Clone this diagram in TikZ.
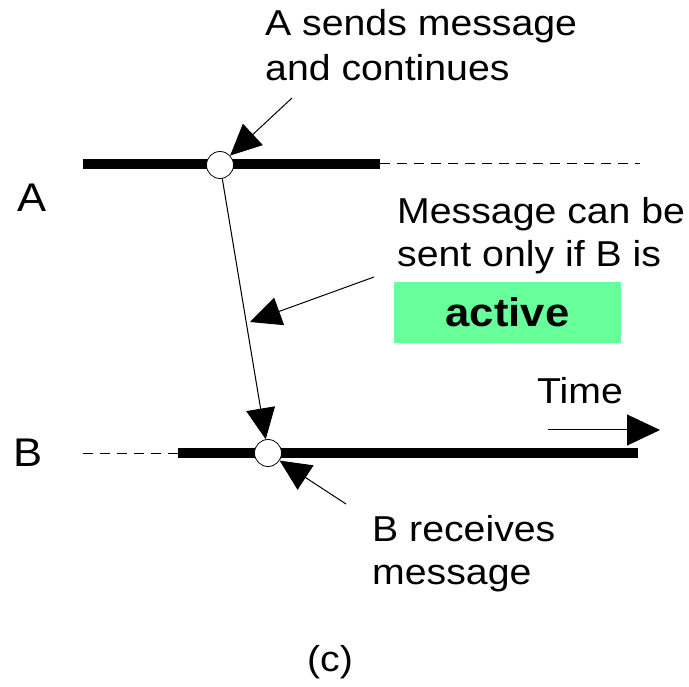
\documentclass[tikz,border=0pt]{standalone}
\usepackage{fontspec}
\setmainfont[FakeStretch=1.09]{Liberation Sans}
\usetikzlibrary{arrows.meta}
\definecolor{activegreen}{RGB}{102,255,153}
\tikzset{
  lbl/.style={anchor=base west, inner sep=0pt, font=\fontsize{36}{43}\selectfont},
  proc/.style={inner sep=0pt, font=\fontsize{40}{48}\selectfont},
  timeline/.style={line width=10pt},
  idle/.style={line width=1pt, dash pattern=on 10pt off 7pt},
  event/.style={circle, draw, line width=0.8pt, fill=white, minimum size=27pt, inner sep=0pt},
  pointer/.style={line width=1pt, -{Triangle[length=31pt, width=29pt]}},
}
\begin{document}
\begin{tikzpicture}[x=1pt, y=-1pt]
  \useasboundingbox (0,0) rectangle (689,687);

  % process labels
  \node[proc] (pa) at (32,198) {A};
  \node[proc] (pb) at (28,453) {B};

  % timeline of A: active, then idle
  \coordinate (a0) at (83,164);
  \coordinate (a1) at (380,164);
  \coordinate (a2) at (640,164);
  \draw[timeline] (a0) -- (a1);
  \draw[idle] (a1) -- (a2);

  % timeline of B: idle, then active
  \coordinate (b0) at (83,453);
  \coordinate (b1) at (178,453);
  \coordinate (b2) at (638,453);
  \draw[idle] (b0) -- (b1);
  \draw[timeline] (b1) -- (b2);

  % send and receive events
  \node[event] (ca) at (220,165) {};
  \node[event] (cb) at (268,453) {};

  % the message itself
  \draw[pointer] (ca) -- (cb);

  % annotations
  \node[lbl] (t1) at (265,36) {A sends message};
  \node[lbl] (t2) at (265,81) {and continues};
  \coordinate (p1) at (292,98);
  \draw[pointer] (p1) -- (ca);

  \node[lbl] (m1) at (397,224) {Message can be};
  \node[lbl] (m2) at (397,267) {sent only if B is};
  \node[fill=activegreen, minimum width=227pt, minimum height=61pt, inner sep=0pt,
        font=\fontsize{40}{46}\selectfont\bfseries] (act) at (507.5,312.5) {active};
  \coordinate (p2) at (374,277);
  \coordinate (mid) at (250,322);
  \draw[pointer] (p2) -- (mid);

  \node[lbl] (r1) at (372,541) {B receives};
  \node[lbl] (r2) at (372,584) {message};
  \coordinate (p3) at (346,504);
  \draw[pointer] (p3) -- (cb);

  % direction of time
  \node[lbl] (tm) at (537,403) {Time};
  \coordinate (d0) at (548,430);
  \coordinate (d1) at (660,430);
  \draw[pointer, -{Triangle[length=33pt, width=31pt]}] (d0) -- (d1);

  \node[inner sep=0pt, font=\fontsize{36}{43}\selectfont] (cap) at (330,662) {(c)};
\end{tikzpicture}
\end{document}
